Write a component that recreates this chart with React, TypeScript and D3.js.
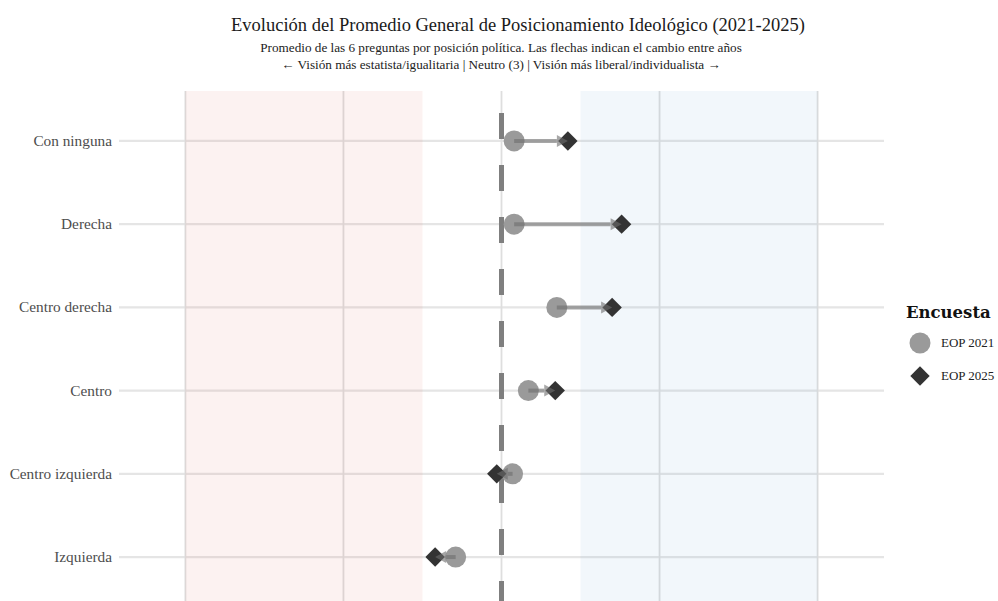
import React from "react";
import * as d3 from "d3";

const categories = ["Con ninguna", "Derecha", "Centro derecha", "Centro", "Centro izquierda", "Izquierda"];
const values2021 = [3.08, 3.08, 3.35, 3.17, 3.07, 2.71];
const values2025 = [3.42, 3.76, 3.70, 3.34, 2.97, 2.58];
const xTicks = [1, 2, 3, 4, 5];
const legendLabels = ["EOP 2021", "EOP 2025"];

const W = 998;
const H = 601;
const FONT = "'Liberation Serif', 'DejaVu Serif', serif";

export default function App() {
  const x = d3.scaleLinear().domain([0.58, 5.42]).range([119, 884]);
  const y = d3.scalePoint<string>().domain(categories).range([91, 607]).padding(0.6);
  const top = 91;
  const bottom = 607;
  const diamond = d3.symbol().type(d3.symbolDiamond2).size(240)();

  const arrowLen = 11;
  const arrowHalf = 6;

  return (
    <svg width={W} height={H} style={{ position: "absolute", left: 0, top: 0, display: "block" }} fontFamily={FONT}>
      <rect x={0} y={0} width={W} height={H} fill="#ffffff" />
      {/* titles */}
      <text x={518} y={31} textAnchor="middle" fontSize={18.5} fill="#1a1a1a">
        Evolución del Promedio General de Posicionamiento Ideológico (2021-2025)
      </text>
      <text x={501} y={52} textAnchor="middle" fontSize={13.2} fill="#222">
        Promedio de las 6 preguntas por posición política. Las flechas indican el cambio entre años
      </text>
      <text x={501} y={69} textAnchor="middle" fontSize={13.2} fill="#222">
        ← Visión más estatista/igualitaria | Neutro (3) | Visión más liberal/individualista →
      </text>

      {/* grid */}
      {categories.map((c) => (
        <line key={c} x1={119} x2={884} y1={y(c)} y2={y(c)} stroke="#e5e5e5" strokeWidth={2.2} />
      ))}
      {xTicks.map((t) => (
        <line key={t} x1={x(t)} x2={x(t)} y1={top} y2={bottom} stroke="#dedede" strokeWidth={1.8} />
      ))}

      {/* shaded zones */}
      <rect x={x(1)} width={x(2.5) - x(1)} y={top} height={bottom - top} fill="#d95d50" opacity={0.08} />
      <rect x={x(3.5)} width={x(5) - x(3.5)} y={top} height={bottom - top} fill="#5d9bc8" opacity={0.08} />

      {/* neutral line */}
      <line x1={x(3)} x2={x(3)} y1={bottom} y2={top} stroke="#7f7f7f" strokeWidth={5} strokeDasharray="26 26" />

      {/* points */}
      {categories.map((c, i) => (
        <circle key={"c" + c} cx={x(values2021[i])} cy={y(c)} r={10.5} fill="#9a9a9a" />
      ))}
      {categories.map((c, i) => (
        <path key={"d" + c} d={diamond as string} transform={`translate(${x(values2025[i])},${y(c)})`} fill="#333333" />
      ))}

      {/* arrows */}
      {categories.map((c, i) => {
        const x0 = x(values2021[i]);
        const x1 = x(values2025[i]);
        const yy = y(c) as number;
        const dir = x1 >= x0 ? 1 : -1;
        const base = x1 - dir * arrowLen;
        return (
          <g key={"a" + c} opacity={0.6}>
            <line x1={x0} x2={base} y1={yy} y2={yy} stroke="#6e6e6e" strokeWidth={4} />
            <path d={`M${x1},${yy}L${base},${yy - arrowHalf}L${base},${yy + arrowHalf}Z`} fill="#6e6e6e" />
          </g>
        );
      })}

      {/* y labels */}
      {categories.map((c) => (
        <text key={"l" + c} x={112} y={(y(c) as number) + 5} textAnchor="end" fontSize={15.3} fill="#4d4d4d">
          {c}
        </text>
      ))}

      {/* legend */}
      <text x={906} y={318} fontSize={16.5} fontWeight="bold" fill="#111" fontFamily="'DejaVu Serif', serif">Encuesta</text>
      <circle cx={920} cy={343} r={10.5} fill="#9a9a9a" />
      <path d={diamond as string} transform="translate(920,376)" fill="#333333" />
      {legendLabels.map((l, i) => (
        <text key={l} x={941} y={347 + i * 33} fontSize={13} fill="#222">{l}</text>
      ))}
    </svg>
  );
}
